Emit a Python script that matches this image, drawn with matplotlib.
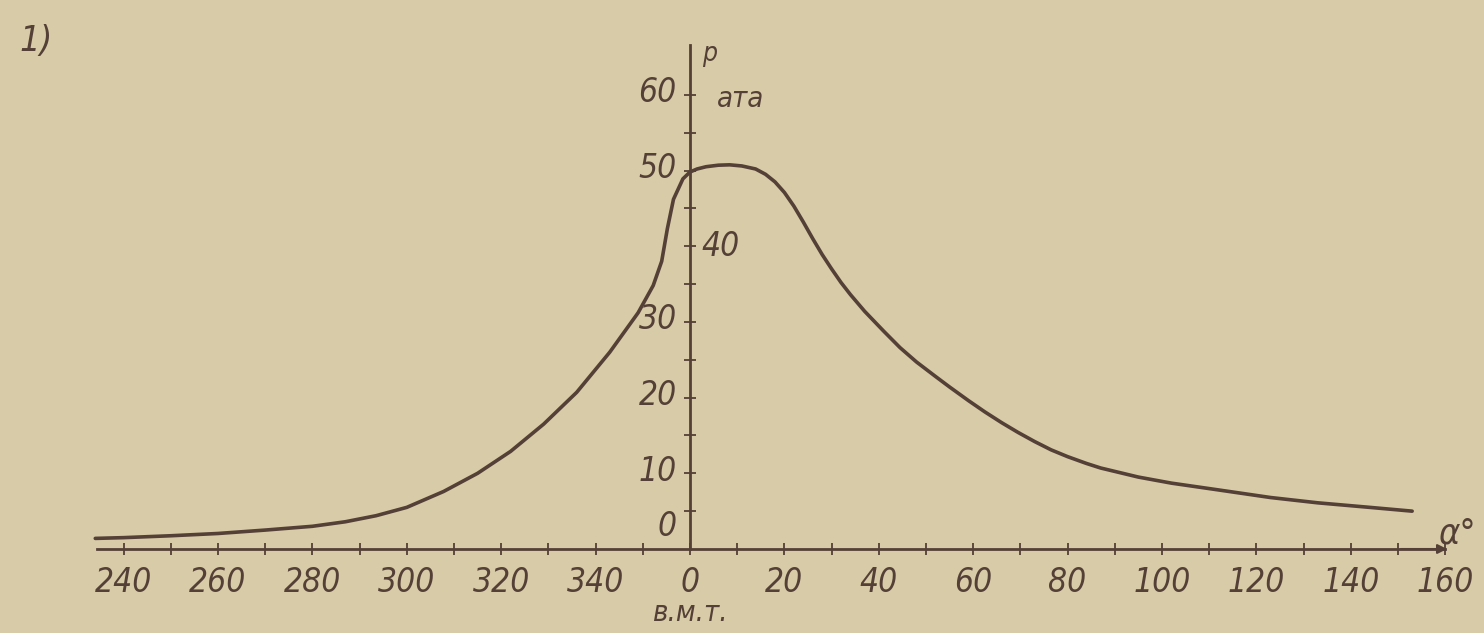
import numpy as np
import matplotlib
matplotlib.use('Agg')
import matplotlib.pyplot as plt
from matplotlib import font_manager

# ====== data ======
# crank angle before TDC (deg) and pressure (ата)
alpha_before = [234, 240, 250, 260, 270, 280, 287, 293.5, 300, 307.8, 315,
                322, 329, 336, 343, 349, 352.2, 354, 355.2, 356.5, 358.5]
p_before = [1.4, 1.5, 1.75, 2.05, 2.5, 3.0, 3.6, 4.4, 5.5, 7.6, 10.0,
            12.9, 16.5, 20.7, 26.0, 31.2, 34.8, 38.0, 42.3, 46.2, 48.9]
# crank angle after TDC (deg) and pressure (ата)
alpha_after = [0, 1.5, 3.4, 6, 8.4, 11, 13.9, 16, 18, 20, 22, 24, 26, 28,
               30, 32, 34, 37, 41, 44.5, 48, 52, 55, 59, 62.5, 66, 69.5,
               73, 76.5, 80, 84, 87, 91, 95, 102, 112, 123, 133, 144, 153]
p_after = [49.8, 50.2, 50.5, 50.7, 50.75, 50.6, 50.2, 49.5, 48.5, 47.1,
           45.3, 43.2, 41.0, 38.9, 37.0, 35.2, 33.6, 31.4, 28.8, 26.6,
           24.7, 22.8, 21.4, 19.6, 18.1, 16.7, 15.4, 14.2, 13.1, 12.2,
           11.3, 10.7, 10.1, 9.5, 8.7, 7.8, 6.8, 6.1, 5.5, 5.0]

x_tick_labels = ['240', '260', '280', '300', '320', '340',
                 '0', '20', '40', '60', '80', '100', '120', '140', '160']
y_tick_values = [0, 10, 20, 30, 40, 50, 60]

# ====== look ======
PAPER = '#d8cba7'
INK = '#544036'

# narrow italic font, like the drafting lettering
fonts = font_manager.fontManager.ttflist
if any(f.name == 'Liberation Sans Narrow' for f in fonts):
    FAM, STRETCH = 'Liberation Sans Narrow', 'normal'
elif any(f.name == 'DejaVu Sans' and f.stretch == 'condensed' for f in fonts):
    FAM, STRETCH = 'DejaVu Sans', 'condensed'
else:
    FAM, STRETCH = 'DejaVu Sans', 'normal'
TXT = dict(family=[FAM, 'DejaVu Sans'], style='italic', stretch=STRETCH, color=INK)

fig = plt.figure(figsize=(14.84, 6.33), dpi=100, facecolor=PAPER)
ax = fig.add_axes([0, 0, 1, 1])
ax.set_facecolor(PAPER)

# pixel scale of the original drawing
X0, KX = 690, 4.72
Y0, KY = 549, 7.57
ax.set_xlim(-X0 / KX, (1484 - X0) / KX)
ax.set_ylim(-(633 - Y0) / KY, Y0 / KY)

# angles before TDC go on the negative side
x = np.concatenate([np.array(alpha_before) - 360, alpha_after])
p = np.concatenate([p_before, p_after])
ax.plot(x, p, color=INK, lw=2.6, solid_joinstyle='round', solid_capstyle='round')

# axes through the origin
for s in ['top', 'right']:
    ax.spines[s].set_visible(False)
ax.spines['left'].set_position(('data', 0))
ax.spines['bottom'].set_position(('data', 0))
ax.spines['left'].set_bounds(0, 66.6)
ax.spines['bottom'].set_bounds(-125.6, 160)
for s in ['left', 'bottom']:
    ax.spines[s].set_color(INK)
    ax.spines[s].set_linewidth(2.0)

xt = [int(v) - 360 if int(v) >= 200 else int(v) for v in x_tick_labels]
ax.set_xticks(xt)
ax.set_xticklabels(x_tick_labels, fontsize=24, **TXT)
ax.set_xticks(np.arange(-110, 160, 20), minor=True)
ax.tick_params(axis='x', which='both', direction='inout', length=9, width=1.3,
               color=INK, pad=8)

ax.set_yticks(np.arange(5, 65, 5))
ax.set_yticklabels([])
ax.tick_params(axis='y', direction='inout', length=9, width=1.3, color=INK)

# y labels sit on alternating sides like in the drawing
for v in y_tick_values:
    if v == 40:
        ax.text(2.5, v, str(v), ha='left', va='center', fontsize=24, **TXT)
    elif v == 0:
        ax.text(-2.8, v + 3.0, str(v), ha='right', va='center', fontsize=24, **TXT)
    else:
        ax.text(-2.8, v + 0.3, str(v), ha='right', va='center', fontsize=24, **TXT)

# arrow on the angle axis
ax.annotate('', xy=(161, 0), xytext=(150, 0),
            arrowprops=dict(arrowstyle='-|>', color=INK, lw=1.5,
                            mutation_scale=14))

ax.text(4.2, 65.4, 'p', ha='center', va='center', fontsize=19, **TXT)
ax.text(5.8, 59.5, 'ата', ha='left', va='center', fontsize=21, **TXT)
ax.text(162.5, 2.0, 'α°', ha='center', va='center', fontsize=26, **TXT)
ax.text(0, -8.5, 'в.м.т.', ha='center', va='center', fontsize=21, **TXT)
fig.text(36 / 1484, 1 - 41 / 633, '1)', ha='center', va='center', fontsize=26, **TXT)

fig.savefig('out.png', dpi=100, facecolor=PAPER)
